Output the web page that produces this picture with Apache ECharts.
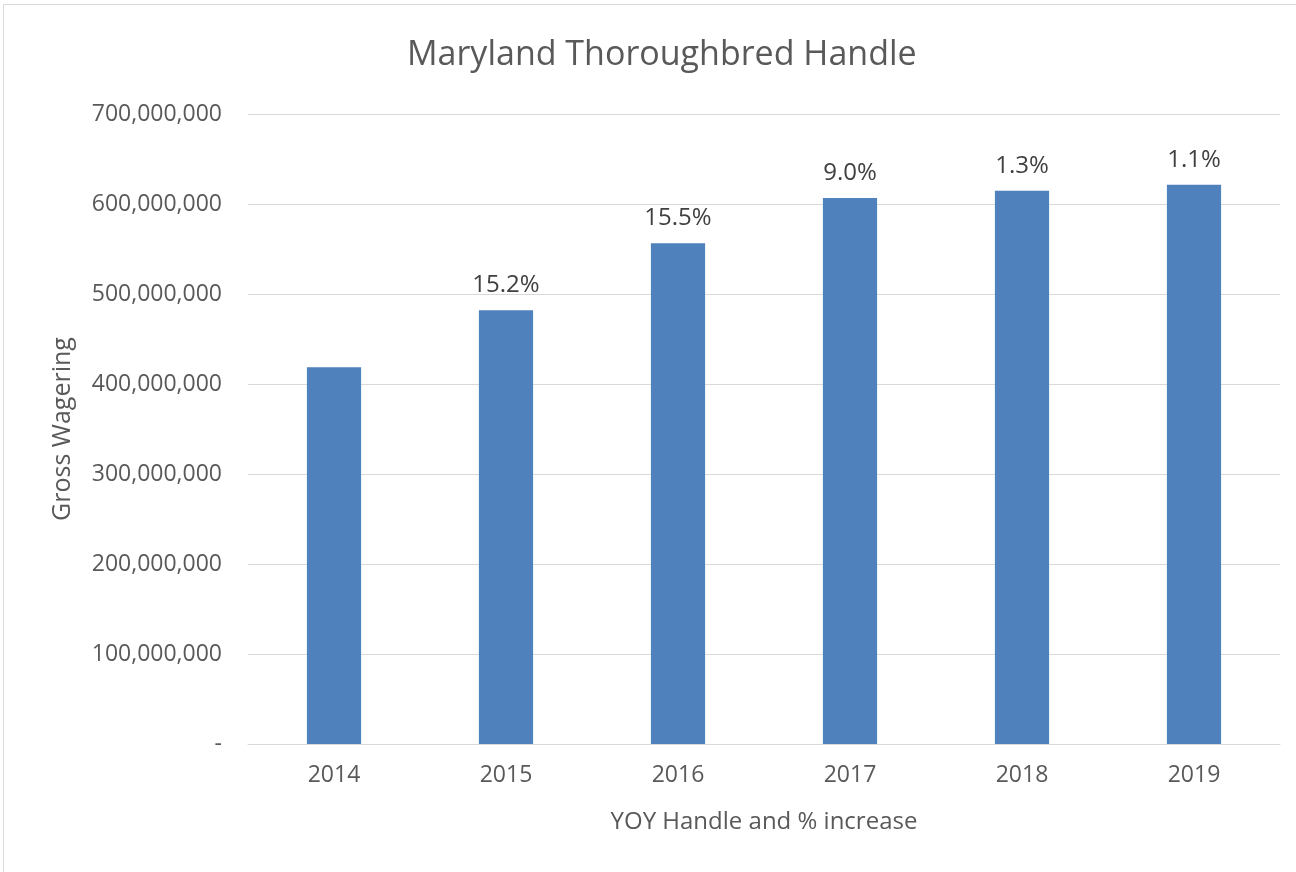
<!DOCTYPE html>
<html>
<head>
<meta charset="utf-8">
<script src="https://cdn.jsdelivr.net/npm/echarts@6/dist/echarts.min.js"></script>
<style>html,body{margin:0;padding:0;background:#fff;}#main{width:1296px;height:872px;}</style>
</head>
<body>
<div id="main"></div>
<script>
const categories = ['2014', '2015', '2016', '2017', '2018', '2019'];
const handle = [418500000, 481900000, 556300000, 606800000, 614800000, 621300000];
const pctLabels = ['', '15.2%', '15.5%', '9.0%', '1.3%', '1.1%'];
const yTicks = [0, 100000000, 200000000, 300000000, 400000000, 500000000, 600000000, 700000000];

const FONT = '"Open Sans", sans-serif';
const chart = echarts.init(document.getElementById('main'));
chart.setOption({
  animation: false,
  backgroundColor: '#fff',
  graphic: [{
    type: 'rect', shape: {x: 3.5, y: 4.5, width: 1400, height: 1000},
    style: {fill: 'none', stroke: '#d9d9d9', lineWidth: 1}, silent: true
  }],
  title: {
    text: 'Maryland Thoroughbred Handle',
    left: 402, top: 33,
    textStyle: {fontFamily: FONT, fontSize: 34, fontWeight: 'normal', color: '#595959'}
  },
  grid: {left: 248, right: 16, top: 114, bottom: 128, containLabel: false},
  xAxis: {
    type: 'category', data: categories,
    name: 'YOY Handle and % increase', nameLocation: 'middle', nameGap: 66,
    nameTextStyle: {fontFamily: FONT, fontSize: 24, color: '#595959'},
    axisLine: {lineStyle: {color: '#d9d9d9', width: 1}},
    axisTick: {show: false},
    axisLabel: {fontFamily: FONT, fontSize: 23, color: '#595959', margin: 20}
  },
  yAxis: {
    type: 'value', min: 0, max: 700000000, interval: 100000000,
    name: 'Gross Wagering', nameLocation: 'middle', nameGap: 173, nameRotate: 90,
    nameTextStyle: {fontFamily: FONT, fontSize: 25, color: '#595959'},
    axisLine: {show: false}, axisTick: {show: false},
    splitLine: {lineStyle: {color: '#d9d9d9', width: 1}},
    axisLabel: {
      fontFamily: FONT, fontSize: 23, color: '#595959', margin: 26,
      formatter: v => v === 0 ? '-' : v.toLocaleString('en-US')
    }
  },
  series: [{
    type: 'bar', data: handle, barWidth: '31.5%',
    itemStyle: {color: '#4F81BD'},
    label: {
      show: true, position: 'top', distance: 13,
      fontFamily: FONT, fontSize: 24, color: '#404040',
      formatter: p => pctLabels[p.dataIndex]
    }
  }]
});
</script>
</body>
</html>
